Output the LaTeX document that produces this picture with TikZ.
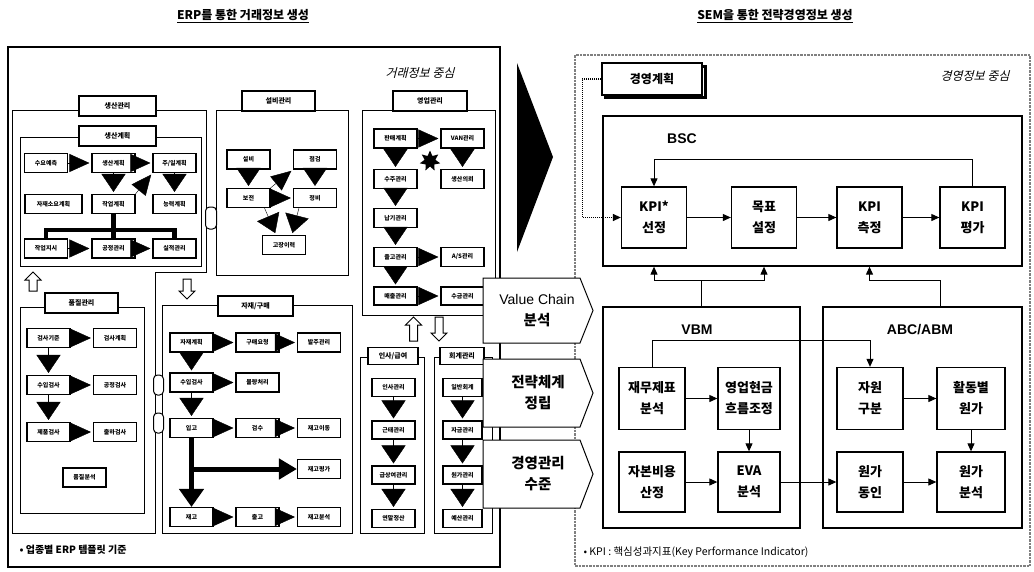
\documentclass[tikz,border=0pt]{standalone}
\usepackage{fontspec}
\setmainfont{Noto Sans CJK KR}
\newfontfamily\lat{Liberation Sans}
\newfontfamily\kit[FakeSlant=0.25]{Noto Sans CJK KR}
\usetikzlibrary{arrows.meta,shapes.geometric,calc}
\newcommand\mkbox[6][]{%
 \pgfmathsetmacro\bw{#5-#3}\pgfmathsetmacro\bh{#6-#4}%
 \pgfmathsetmacro\bx{(#3+#5)/2}\pgfmathsetmacro\by{(#4+#6)/2}%
 \node[cont,#1,minimum width=\bw pt,minimum height=\bh pt] (#2) at (\bx,\by) {};}
\newcommand\hollowup[4]{% name x ytip ybase
 \draw[line width=1pt, fill=white] (#2,#3) -- ++(8,8) -- ++(-4,0) -- (#2+4,#4) -- (#2-4,#4) -- (#2-4,#3+8) -- ++(-4,0) -- cycle;
 \coordinate (#1) at (#2,#3);}
\newcommand\hollowdn[4]{%
 \draw[line width=1pt, fill=white] (#2,#3) -- ++(8,-8) -- ++(-4,0) -- (#2+4,#4) -- (#2-4,#4) -- (#2-4,#3-8) -- ++(-4,0) -- cycle;
 \coordinate (#1) at (#2,#3);}
\tikzset{
 cont/.style={draw, line width=1pt, inner sep=0pt},
 sb/.style={draw, line width=1.1pt, fill=white, inner sep=0pt, minimum width=43pt, minimum height=19pt, font=\fontsize{6}{6}\selectfont\bfseries},
 tagbox/.style={draw, line width=1.8pt, fill=white, inner sep=0pt, minimum height=20pt, font=\fontsize{7}{7}\selectfont\bfseries},
 kb/.style={draw, line width=1.3pt, fill=white, inner sep=0pt, align=center, minimum width=65pt, minimum height=61pt, font=\fontsize{13}{21}\selectfont\bfseries},
 arr/.style={-{Triangle[length=8pt,width=7pt]}, line width=1pt},
 btr/.style={-{Triangle[length=20pt,width=18pt]}, line width=0.4pt, shorten >=2pt},
 btd/.style={-{Triangle[length=18pt,width=24pt]}, line width=0.4pt, shorten >=2pt},
 oval/.style={draw, line width=1pt, fill=white, rounded corners=4pt, minimum width=10pt, minimum height=20pt, inner sep=0pt},
 penta/.style={draw, line width=1pt, fill=white},
 ptext/.style={align=center, font=\fontsize{14.5}{21}\selectfont\bfseries},
}
\begin{document}
\begin{tikzpicture}[x=1pt,y=-1pt]
\useasboundingbox (0,0) rectangle (1034,571);
\fill[white] (0,0) rectangle (1034,571);
% titles
\node (t1) at (243,16) {\fontsize{12}{12}\selectfont\bfseries\underline{ERP를 통한 거래정보 생성}};
\node (t2) at (775,16) {\fontsize{12}{12}\selectfont\bfseries\underline{SEM을 통한 전략경영정보 생성}};
% ===== left ERP frame
\mkbox[line width=1.2pt]{erp}{8}{47}{500}{567}
\node (lt) at (420,73) {\kit\fontsize{12}{12}\selectfont 거래정보 중심};
\node[anchor=west] (fn1) at (16,550) {\fontsize{10}{10}\selectfont\bfseries • 업종별 ERP 템플릿 기준};
% containers
\draw[line width=1pt] (12,110) -- (206,110) -- (206,272) -- (155,272) -- (155,533) -- (12,533) -- cycle;
\mkbox{plan}{20}{137}{201}{266}
\mkbox{qual}{20}{307}{144}{513}
\mkbox{mat}{162}{305}{352}{533}
\mkbox{equip}{216}{110}{348}{275}
\mkbox{sales}{362}{110}{495}{315}
\mkbox{hr}{360}{357}{424}{533}
\mkbox{acc}{434}{357}{492}{533}
% tags
\node[tagbox, minimum width=77pt] (tprod) at (117.5,106) {생산관리};
\node[tagbox, minimum width=77pt] (tplan) at (117.5,136) {생산계획};
\node[tagbox, minimum width=73pt] (tqual) at (81.5,303) {품질관리};
\node[tagbox, minimum width=75pt] (tmat) at (255.5,306) {자재/구매};
\node[tagbox, minimum width=73pt] (tequip) at (278.5,101) {설비관리};
\node[tagbox, minimum width=74pt] (tsales) at (430,101) {영업관리};
\node[tagbox, minimum width=50pt, minimum height=17pt] (thr) at (393,356) {인사/급여};
\node[tagbox, minimum width=44pt, minimum height=17pt] (tacc) at (462,356) {회계관리};
% connectors between modules
\node[oval, minimum height=22pt, minimum width=11pt] (o1) at (211,218) {};
\node[oval] (o2) at (158.5,385) {};
\node[oval] (o3) at (158.5,423) {};
\hollowup{ua1}{33}{272}{291}
\hollowdn{da1}{187}{299}{279}
\hollowup{ua2}{413.5}{317}{341}
\hollowdn{da2}{439}{341}{317}
% ----- production planning
\node[sb] (p11) at (46,163) {수요예측};
\node[sb] (p12) at (113.5,163) {생산계획};
\node[sb] (p13) at (174.5,163) {주/일계획};
\node[sb, minimum width=57pt] (p21) at (53.5,204) {자재소요계획};
\node[sb] (p22) at (113.5,204) {작업계획};
\node[sb] (p23) at (174.5,204) {능력계획};
\node[sb] (p31) at (46,248.5) {작업지시};
\node[sb] (p32) at (113.5,248.5) {공정관리};
\node[sb] (p33) at (174.5,248.5) {실적관리};
\draw[btr] (p11.east) -- (p12.west);
\draw[btr] (p12.east) -- (p13.west);
\draw[btd] (p12.south) -- (p22.north);
\draw[btd] (p13.south) -- (p23.north);
\draw[btr] (p22.north east) -- (p13.south west);
\draw[btr] (p31.east) -- (p32.west);
\draw[btr] (p32.east) -- (p33.west);
\coordinate (tb) at (113.5,230);
\draw[line width=4.5pt] (p22.south) -- (tb);
\draw[line width=4.5pt] (p31.north) -- (p31.north |- tb) -- (p33.north |- tb) -- (p33.north);
\draw[line width=4.5pt] (tb) -- (p32.north);
% ----- quality
\node[sb] (q11) at (48.5,338) {검사기준};
\node[sb] (q12) at (115,338) {검사계획};
\node[sb] (q21) at (48.5,385) {수입검사};
\node[sb] (q22) at (115,385) {공정검사};
\node[sb] (q31) at (48.5,432) {제품검사};
\node[sb] (q32) at (115,432) {출하검사};
\node[sb] (q4) at (84.5,477.5) {품질분석};
\draw[btr] (q11.east) -- (q12.west);
\draw[btr] (q21.east) -- (q22.west);
\draw[btr] (q31.east) -- (q32.west);
\draw[btd] (q11.south) -- (q21.north);
\draw[btd] (q21.south) -- (q31.north);
% ----- material
\node[sb] (m11) at (191.5,342.5) {자재계획};
\node[sb] (m12) at (257.5,342.5) {구매요청};
\node[sb] (m13) at (319,342.5) {발주관리};
\node[sb] (m21) at (191.5,382.5) {수입검사};
\node[sb] (m22) at (257.5,382.5) {불량처리};
\node[sb] (m31) at (191.5,428) {입고};
\node[sb] (m32) at (257.5,428) {검수};
\node[sb] (m33) at (319,428) {재고이동};
\node[sb] (mm) at (319,469) {재고평가};
\node[sb] (m41) at (191.5,517) {재고};
\node[sb] (m42) at (257.5,517) {출고};
\node[sb] (m43) at (319,517) {재고분석};
\draw[btr] (m11.east) -- (m12.west);
\draw[btr] (m12.east) -- (m13.west);
\draw[btd] (m11.south) -- (m21.north);
\draw[btr] (m21.east) -- (m22.west);
\draw[btd] (m21.south) -- (m31.north);
\draw[btr] (m31.east) -- (m32.west);
\draw[btr] (m32.east) -- (m33.west);
\draw[line width=5pt, -{Triangle[length=18pt,width=24pt]}] (m31.south) -- (m41.north);
\draw[line width=5pt, -{Triangle[length=18pt,width=20pt]}] (m31.south |- mm.west) -- (mm.west);
\draw[btr] (m41.east) -- (m42.west);
\draw[btr] (m42.east) -- (m43.west);
% ----- equipment
\node[sb] (e1) at (248.5,159.5) {설비};
\node[sb] (e2) at (315,159.5) {점검};
\node[sb] (e3) at (248.5,198) {보전};
\node[sb] (e4) at (315,198) {정비};
\node[sb] (e5) at (284,245) {고장이력};
\draw[btd] (e1.south) -- (e3.north);
\draw[btd] (e2.south) -- (e4.north);
\draw[btr] (e3.east) -- (e4.west);
\draw[btr] (e3.north east) -- (e2.south west);
\draw[btd] ($(e3.south east)+(-6,0)$) -- ($(e5.north)+(-8,0)$);
\draw[btd] ($(e4.south west)+(6,0)$) -- ($(e5.north)+(8,0)$);
% ----- sales
\node[sb] (s11) at (395.5,138.5) {판매계획};
\node[sb] (s12) at (462.5,138.5) {VAN관리};
\node[sb] (s21) at (395.5,179) {수주관리};
\node[sb] (s22) at (462.5,179) {생산의뢰};
\node[sb] (s3) at (395.5,218) {납기관리};
\node[sb] (s41) at (395.5,257) {출고관리};
\node[sb] (s42) at (462.5,257) {A/S관리};
\node[sb, minimum height=18pt] (s51) at (395.5,296) {매출관리};
\node[sb, minimum height=18pt] (s52) at (462.5,296) {수금관리};
\draw[btr] (s11.east) -- (s12.west);
\draw[btd] (s11.south) -- (s21.north);
\draw[btd] (s12.south) -- (s22.north);
\draw[btd] (s21.south) -- (s3.north);
\draw[btd] (s3.south) -- (s41.north);
\draw[btd] (s41.south) -- (s51.north);
\draw[btr] (s41.east) -- (s42.west);
\draw[btr] (s51.east) -- (s52.west);
\node[star, star points=7, star point ratio=1.9, fill=black, minimum size=21pt, inner sep=0pt] (st) at (430,161) {};
% ----- HR and accounting
\node[sb, minimum height=18pt] (h1) at (393.5,387.5) {인사관리};
\node[sb, minimum height=18pt] (h2) at (393.5,430) {근태관리};
\node[sb, minimum height=18pt] (h3) at (393.5,475) {급상여관리};
\node[sb, minimum height=18pt] (h4) at (393.5,518.5) {연말정산};
\draw[btd] (h1.south) -- (h2.north);
\draw[btd] (h2.south) -- (h3.north);
\draw[btd] (h3.south) -- (h4.north);
\node[sb, minimum width=39pt, minimum height=18pt] (a1) at (462.5,387.5) {일반회계};
\node[sb, minimum width=39pt, minimum height=18pt] (a2) at (462.5,430) {자금관리};
\node[sb, minimum width=39pt, minimum height=18pt] (a3) at (462.5,475) {원가관리};
\node[sb, minimum width=39pt, minimum height=18pt] (a4) at (462.5,518.5) {예산관리};
\draw[btd] (a1.south) -- (a2.north);
\draw[btd] (a2.south) -- (a3.north);
\draw[btd] (a3.south) -- (a4.north);
% ===== big triangle
\fill (517,63) -- (553,157) -- (517,252) -- cycle;
% ===== right SEM frame
\draw[gray, densely dotted, line width=2.5pt] (575,55) rectangle (1030,566);
\node (rt) at (975,76) {\kit\fontsize{12}{12}\selectfont 경영정보 중심};
\node[anchor=west] (fn2) at (580,552) {\fontsize{10.5}{10.5}\selectfont • KPI : 핵심성과지표(Key Performance Indicator)};
\draw[line width=3pt] (605,66) rectangle (705,97);
\node[draw, line width=1.3pt, fill=white, minimum width=100pt, minimum height=32pt, font=\fontsize{12}{12}\selectfont\bfseries] (plan2) at (652,79) {경영계획};
\mkbox[line width=1.3pt]{bsc}{603}{116}{1022}{266}
\node (bscl) at (682,139) {\lat\bfseries\fontsize{14}{14}\selectfont BSC};
\node[kb] (kpisel) at (654,217.5) {KPI*\\선정};
\node[kb] (goal) at (764,217.5) {목표\\설정};
\node[kb] (kpimeas) at (869.5,217.5) {KPI\\측정};
\node[kb] (kpieval) at (972.5,217.5) {KPI\\평가};
\draw[arr] (kpisel.east) -- (goal.west);
\draw[arr] (goal.east) -- (kpimeas.west);
\draw[arr] (kpimeas.east) -- (kpieval.west);
\draw[arr] (kpieval.north) -- ++(0,-27) -| (kpisel.north);
\draw[arr, densely dotted, line width=1.3pt] (plan2.west) -- ++(-19,0) |- (kpisel.west);
\mkbox[line width=1.3pt]{vbm}{603}{307}{800}{528}
\mkbox[line width=1.3pt]{abc}{823}{307}{1022}{528}
\node (vbml) at (697,330) {\lat\bfseries\fontsize{14}{14}\selectfont VBM};
\node (abcl) at (920,330) {\lat\bfseries\fontsize{14}{14}\selectfont ABC/ABM};
\coordinate (jy) at (0,280);
\draw[arr] (vbm.north) -- (vbm.north |- jy) -| (kpisel |- bsc.south);
\draw[arr] (vbm.north |- jy) -| (goal |- bsc.south);
\coordinate (abt) at (940,307);
\draw[arr] (abt) -- (abt |- jy) -| (kpimeas |- bsc.south);
\node[kb, minimum width=66pt, minimum height=62pt] (fin) at (652,398.5) {재무제표\\분석};
\node[kb, minimum width=62pt, minimum height=62pt] (cash) at (749,398.5) {영업현금\\흐름조정};
\node[kb, minimum width=66pt, minimum height=60pt] (cap) at (652,482) {자본비용\\산정};
\node[kb, minimum width=62pt, minimum height=60pt] (eva) at (749,482) {EVA\\분석};
\node[kb, minimum width=66pt, minimum height=62pt] (res) at (870,398.5) {자원\\구분};
\node[kb, minimum width=68pt, minimum height=62pt] (act) at (971,398.5) {활동별\\원가};
\node[kb, minimum width=66pt, minimum height=60pt] (drv) at (870,482) {원가\\동인};
\node[kb, minimum width=68pt, minimum height=60pt] (cana) at (971,482) {원가\\분석};
\draw[arr] (fin.east) -- (cash.west);
\draw[arr] (cash.south) -- (eva.north);
\draw[arr] (cap.east) -- (eva.west);
\draw[arr] (eva.east) -- (drv.west);
\draw[arr] (res.east) -- (act.west);
\draw[arr] (act.south) -- (cana.north);
\draw[arr] (drv.east) -- (cana.west);
\coordinate (ly) at (0,340);
\draw[arr] (fin.north) -- (fin.north |- ly) -| (res.north);
% ===== pentagons
\draw[penta] (483,278) -- (580,278) -- (593,310.5) -- (580,343) -- (483,343) -- cycle;
\node[ptext] (vc) at (537,310.5) {{\lat\mdseries\fontsize{14}{14}\selectfont Value Chain}\\분석};
\draw[penta] (483,359) -- (580,359) -- (593,393) -- (580,427) -- (483,427) -- cycle;
\node[ptext] (ss) at (538,393) {전략체계\\정립};
\draw[penta] (483,440) -- (580,440) -- (593,474) -- (580,508) -- (483,508) -- cycle;
\node[ptext] (ml) at (538,474) {경영관리\\수준};
\end{tikzpicture}
\end{document}
